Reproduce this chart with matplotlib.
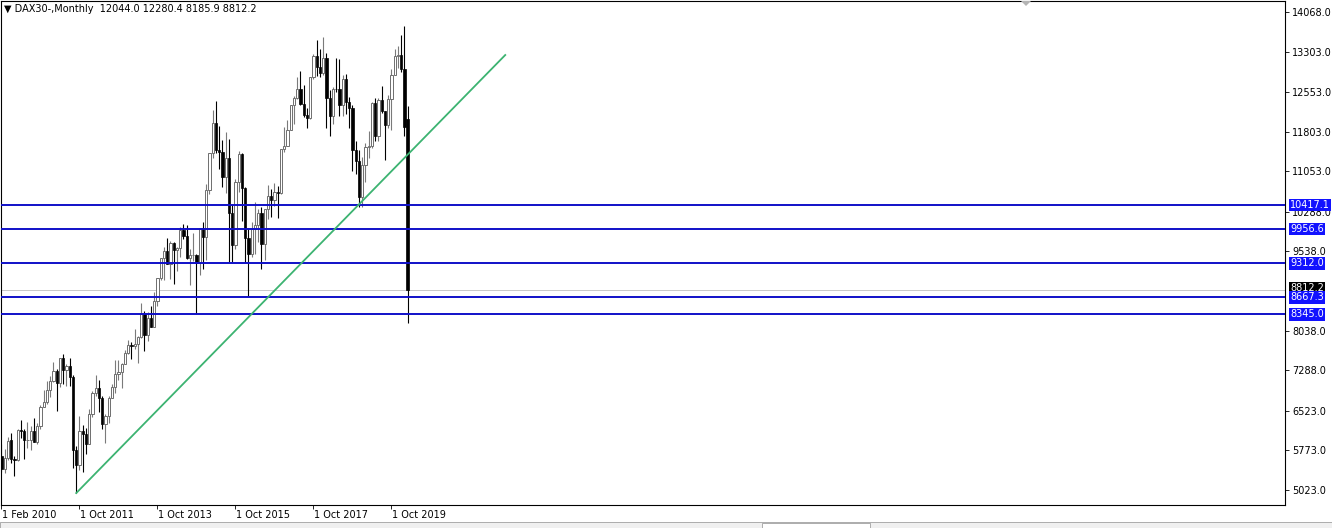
import matplotlib
matplotlib.use("Agg")
import matplotlib.pyplot as plt
from matplotlib.patches import Rectangle, Polygon
from matplotlib.transforms import blended_transform_factory

# monthly bars, Oct 2009 .. Mar 2020
opens = [
    5675, 5415, 5626,
    5975, 5609, 5598, 6154, 6136, 5964, 5966, 6148, 5925, 6229, 6601, 6688,
    6914, 7077, 7272, 7041, 7514, 7294, 7376, 7159, 5785, 5502, 6141, 6089,
    5898, 6459, 6856, 6947, 6761, 6264, 6416, 6772, 6970, 7216, 7260, 7405,
    7612, 7776, 7742, 7795, 7914, 8349, 7959, 8276, 8103, 8594, 9033, 9405,
    9552, 9306, 9692, 9556, 9603, 9943, 9833, 9407, 9470, 9474, 9326, 9980,
    9806, 10694, 11402, 11966, 11454, 11413, 10945, 11309, 10259, 9660, 10850, 11382,
    10743, 9798, 9495, 9966, 10039, 10263, 9680, 10337, 10593, 10511, 10665, 10640,
    11481, 11535, 11834, 12313, 12438, 12615, 12325, 12118, 12056, 12829, 13230, 13024,
    12918, 13189, 12436, 12097, 12612, 12605, 12306, 12806, 12364, 12247, 11448, 11257,
    10559, 11173, 11516, 11526, 12344, 11727, 12399, 12189, 11939, 12428, 12867, 13236,
    13249, 12982, 12044,
]
highs = [
    5888, 5806, 6026,
    6094, 5660, 6177, 6342, 6170, 6312, 6230, 6387, 6298, 6630, 6906, 7087,
    7180, 7441, 7313, 7527, 7600, 7400, 7523, 7200, 5860, 6430, 6250, 6200,
    6550, 6900, 7194, 7100, 6800, 6470, 6800, 7030, 7480, 7480, 7420, 7680,
    7870, 7830, 8070, 7940, 8560, 8410, 8400, 8500, 8770, 9030, 9410, 9620,
    9790, 9730, 9720, 9620, 10000, 10050, 10030, 9590, 9890, 9480, 9980, 10090,
    10810, 11400, 12220, 12390, 11920, 11640, 11800, 11670, 10440, 10900, 11430, 11400,
    10760, 9990, 10100, 10480, 10340, 10370, 10340, 10800, 10710, 10830, 10780, 11480,
    11890, 12030, 12310, 12480, 12840, 12950, 12680, 12260, 12840, 13270, 13530, 13360,
    13600, 13300, 12600, 12640, 13200, 13180, 12880, 12900, 12460, 12300, 11620, 11460,
    11330, 11580, 11820, 12370, 12440, 12440, 12660, 12190, 12490, 12990, 13370, 13430,
    13640, 13795, 12280.4,
]
lows = [
    5367, 5350, 5600,
    5540, 5279, 5580, 6000, 5607, 5823, 5780, 5925, 5900, 6170, 6600, 6650,
    6785, 7060, 6515, 6970, 7020, 7000, 6990, 5440, 4965, 5400, 5370, 5700,
    5900, 6400, 6800, 6500, 6170, 5915, 6300, 6780, 6860, 7100, 6950, 7400,
    7600, 7500, 7700, 7420, 7900, 7650, 7850, 8100, 8100, 8500, 9000, 9000,
    9300, 9020, 8920, 9170, 9440, 9770, 9400, 8900, 9350, 8355, 9100, 9200,
    9380, 10630, 11300, 11400, 11100, 10750, 10650, 9340, 9330, 9590, 10670, 10120,
    9310, 8700, 9440, 9480, 9720, 9210, 9370, 10150, 10190, 10400, 10170, 10620,
    11410, 11530, 11830, 11940, 12420, 12300, 12080, 11870, 12050, 12800, 12850, 12840,
    12870, 11870, 11730, 11950, 12560, 12100, 12100, 12130, 11870, 11050, 11010, 10380,
    10380, 10860, 11300, 11500, 11620, 11630, 12150, 11270, 11880, 11830, 12880, 13000,
    12930, 11720, 8185.9,
]
closes = [
    5415, 5626, 5957,
    5609, 5598, 6154, 6136, 5964, 5966, 6148, 5925, 6229, 6601, 6688, 6914,
    7077, 7272, 7041, 7514, 7294, 7376, 7159, 5785, 5502, 6141, 6089, 5898,
    6459, 6856, 6947, 6761, 6264, 6416, 6772, 6970, 7216, 7260, 7405, 7612,
    7776, 7742, 7795, 7914, 8349, 7959, 8276, 8103, 8594, 9033, 9405, 9552,
    9306, 9692, 9556, 9603, 9943, 9833, 9407, 9470, 9474, 9326, 9980, 9806,
    10694, 11402, 11966, 11454, 11413, 10945, 11309, 10259, 9660, 10850, 11382, 10743,
    9798, 9495, 9966, 10039, 10263, 9680, 10337, 10593, 10511, 10665, 10640, 11481,
    11535, 11834, 12313, 12438, 12615, 12325, 12118, 12056, 12829, 13230, 13024, 12918,
    13189, 12436, 12097, 12612, 12605, 12306, 12806, 12364, 12247, 11448, 11257, 10559,
    11173, 11516, 11526, 12344, 11727, 12399, 12189, 11939, 12428, 12867, 13236, 13249,
    12982, 11890, 8812.2,
]

price_ticks = [14068, 13303, 12553, 11803, 11053, 10288, 9538, 8038, 7288, 6523, 5773, 5023]
date_tick_idx = [0, 24, 48, 72, 96, 120]
date_tick_labels = ["1 Feb 2010", "1 Oct 2011", "1 Oct 2013", "1 Oct 2015", "1 Oct 2017", "1 Oct 2019"]
levels = [10417.1, 9956.6, 9312.0, 8667.3, 8345.0]
last_price = 8812.2
trend_idx = [23, 155]
trend_price = [4965, 13254]
title = "DAX30-,Monthly  12044.0 12280.4 8185.9 8812.2"

W, H = 1332, 528
fig = plt.figure(figsize=(W / 100, H / 100), dpi=100)
fig.patch.set_facecolor("white")
ax_l, ax_r, ax_t, ax_b = 1, 1285, 1, 505
ax = fig.add_axes([ax_l / W, 1 - ax_b / H, (ax_r - ax_l) / W, (ax_b - ax_t) / H])

# pixel scale of the original chart
px_per_bar = 3.25
ppp = (14068 - 5023) / (490 - 12)
ax.set_ylim(14068 - (ax_b - 12) * ppp, 14068 + (12 - ax_t) * ppp)
x0 = -0.15
ax.set_xlim(x0, x0 + (ax_r - ax_l) / px_per_bar)

bw = 0.72
for i, (o, h, l, c) in enumerate(zip(opens, highs, lows, closes)):
    if c >= o:
        ax.vlines(i, l, h, color="#7a7a7a", lw=0.8, zorder=2)
        ax.add_patch(Rectangle((i - bw / 2, o), bw, c - o, facecolor="white",
                               edgecolor="#6e6e6e", lw=0.7, zorder=3))
    else:
        ax.vlines(i, l, h, color="black", lw=0.8, zorder=2)
        w = bw if i < len(opens) - 1 else 0.95
        ax.add_patch(Rectangle((i - w / 2, c), w, o - c, facecolor="black",
                               edgecolor="black", lw=0.5, zorder=3))

# horizontal levels and last price line
ax.axhline(last_price, color="#c8c8c8", lw=0.7, zorder=1)
for lv in levels:
    ax.axhline(lv, color="#1010c8", lw=1.4, zorder=4)

ax.plot(trend_idx, trend_price, color="#3cb371", lw=1.3, zorder=5)

# right price axis
ax.yaxis.tick_right()
ax.set_yticks(price_ticks)
ax.set_yticklabels([f"{v:.1f}" for v in price_ticks])
ax.tick_params(axis="y", direction="out", length=3, width=0.6, pad=2,
               labelsize=7, colors="black")
ax.set_xticks(date_tick_idx)
ax.set_xticklabels([])
ax.tick_params(axis="x", direction="out", length=3, width=0.6)
for s in ax.spines.values():
    s.set_linewidth(0.8)

trans = blended_transform_factory(ax.transAxes, ax.transData)
box_x = 1 + 5 / (ax_r - ax_l)
for lv in levels:
    ax.text(box_x, lv, f"{lv:.1f}", transform=trans, fontsize=7, color="white",
            va="center", ha="left", zorder=10, clip_on=False,
            bbox=dict(boxstyle="square,pad=0.12", fc="#1212ff", ec="none"))
ax.text(box_x, last_price + 1.5 * ppp, f"{last_price:.1f}", transform=trans, fontsize=7,
        color="white", va="center", ha="left", zorder=9, clip_on=False,
        bbox=dict(boxstyle="square,pad=0.12", fc="black", ec="none"))

# date labels, left aligned to the tick
xtrans = blended_transform_factory(ax.transData, ax.transAxes)
for idx, lab in zip(date_tick_idx, date_tick_labels):
    ax.text(idx + 0.1, -10 / (ax_b - ax_t), lab, transform=xtrans, fontsize=7,
            ha="left", va="center", clip_on=False)

ax.text(3 / (ax_r - ax_l), 1 - 8 / (ax_b - ax_t), "\u25bc " + title, transform=ax.transAxes,
        fontsize=7, ha="left", va="center")

# small shift marker at the top and bottom status strip
fig.patches.append(Polygon([[1021 / W, 1 - 1 / H], [1031 / W, 1 - 1 / H], [1026 / W, 1 - 6 / H]],
                           closed=True, transform=fig.transFigure, fc="#b4b4b4", ec="none"))
fig.patches.append(Rectangle((0, 0), 1, 6 / H, transform=fig.transFigure, fc="#f0f0f0",
                             ec="#a0a0a0", lw=0.6))
fig.patches.append(Rectangle((762 / W, 0), 108 / W, 5 / H, transform=fig.transFigure,
                             fc="white", ec="#a0a0a0", lw=0.6))

fig.savefig("out.png", dpi=100)
